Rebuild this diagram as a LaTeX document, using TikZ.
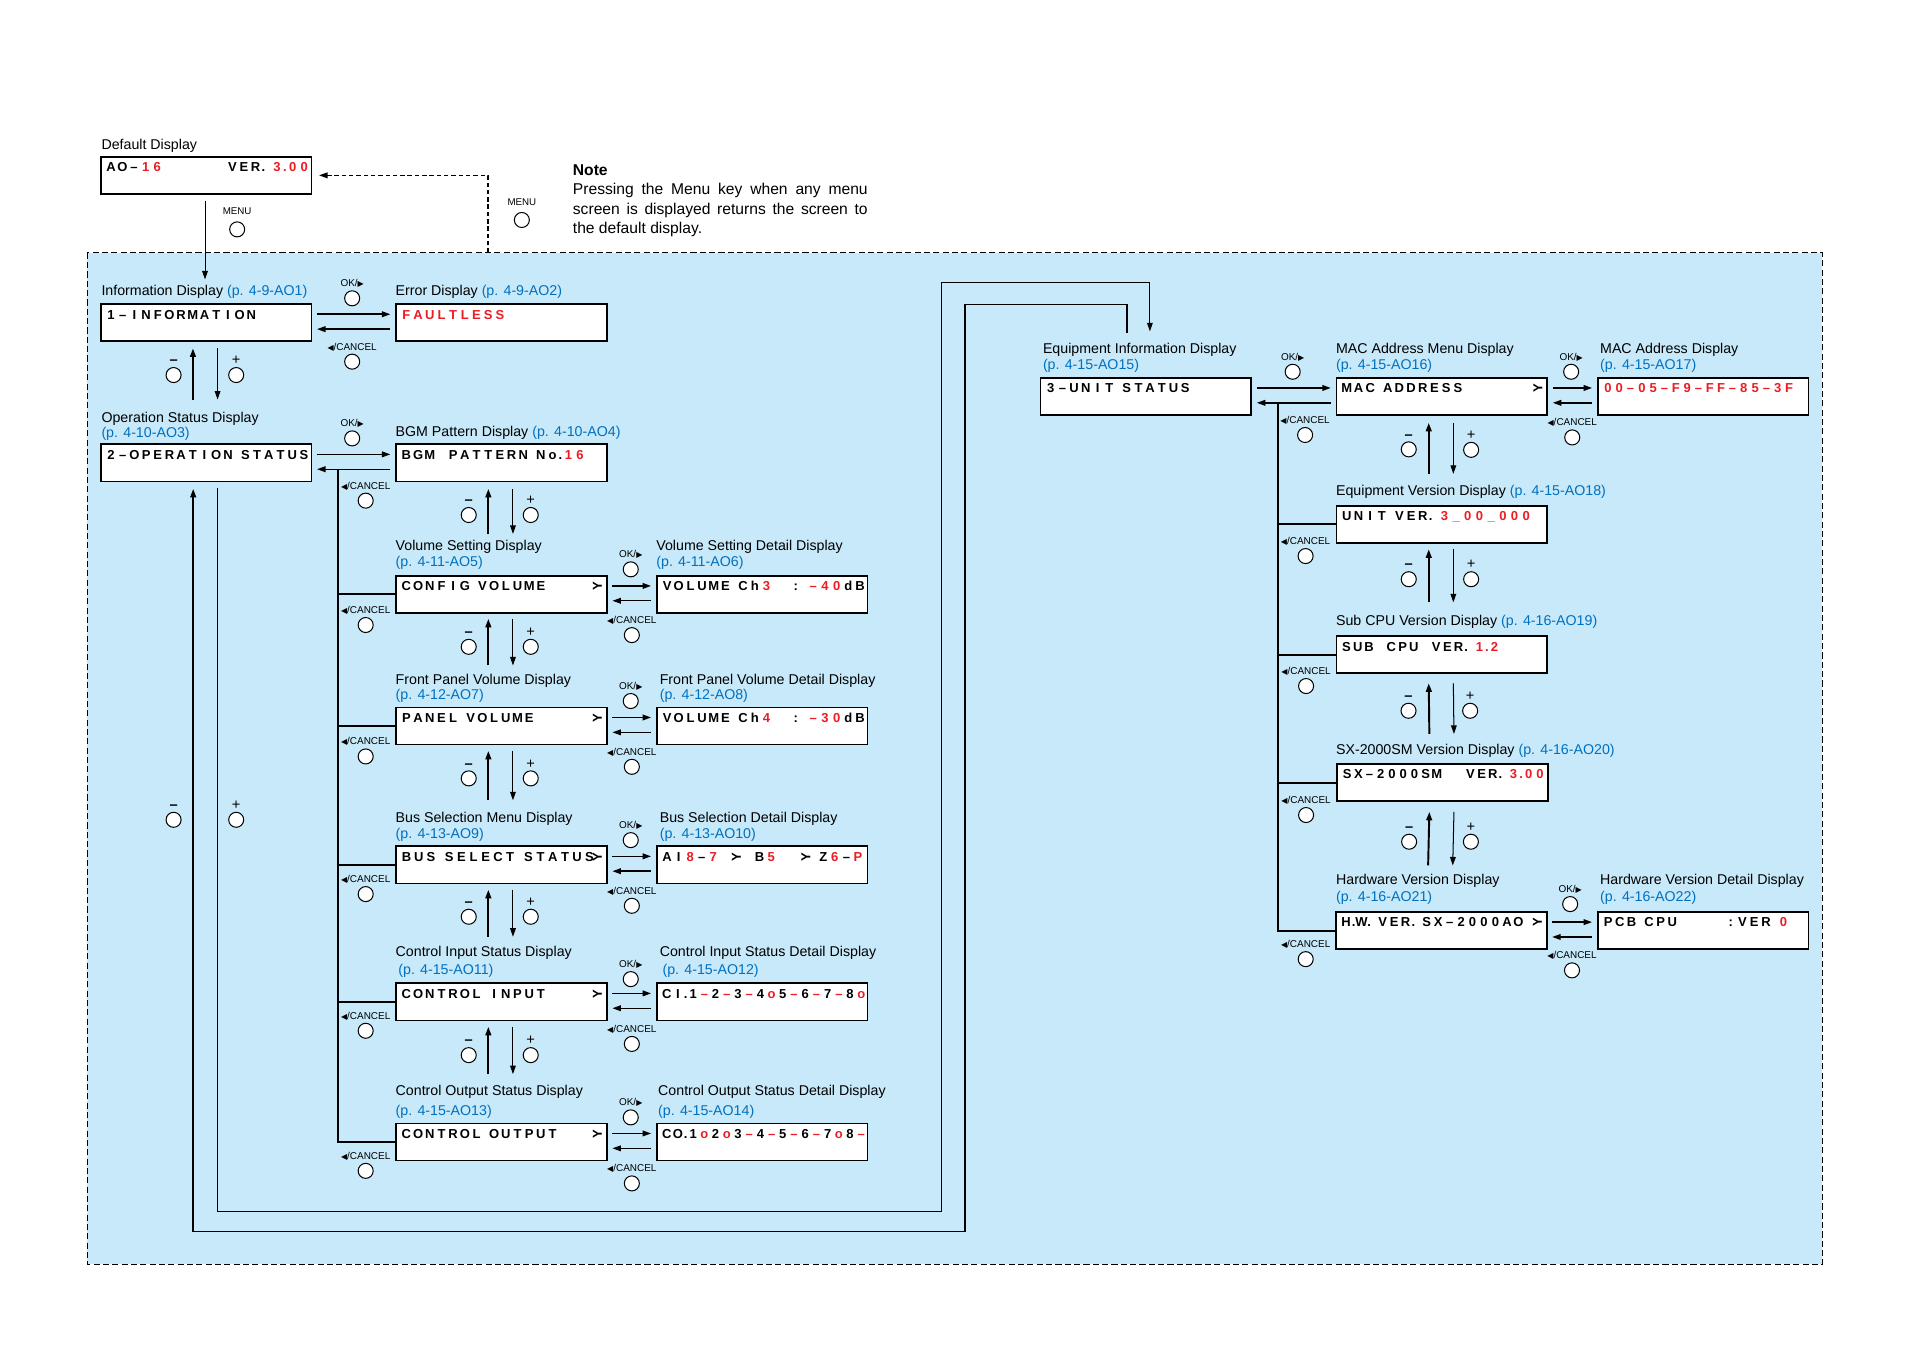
\documentclass[tikz,border=0pt]{standalone}
\usepackage{fontspec}
\setmainfont{Liberation Sans}
\newfontfamily\symfont{DejaVu Sans}
\usepackage{graphicx}
\usetikzlibrary{arrows.meta,calc}
\definecolor{bgblue}{RGB}{199,233,249}
\definecolor{refblue}{RGB}{0,112,192}
\definecolor{lcdred}{RGB}{235,28,36}
\newlength\myu \setlength\myu{0.6pt}
\newlength\lcdp \setlength\lcdp{5.76pt}
\newcommand\RR{RR}
\newcommand\KK{KK}
\newcommand\arrglyph{\rotatebox[origin=c]{90}{Y}}
\newcommand\bluetxt[1]{\textcolor{refblue}{#1}}
\def\lcdend{LCDEND}
\def\lcd#1{\lcdloop#1\lcdend}
\def\lcdloop#1{\ifx#1\lcdend\let\lcdnext\relax\else\lcdput#1\let\lcdnext\lcdloop\fi\lcdnext}
\def\lcdput#1{%
  \ifx#1|\kern.5\lcdp\else
  \ifx#1*\kern\lcdp\else
  \ifx#1.\makebox[.35\lcdp][c]{.}\else
  \ifx#1\RR\color{lcdred}\else
  \ifx#1\KK\color{black}\else
  \makebox[\lcdp][c]{#1}%
  \fi\fi\fi\fi\fi}
\newcommand\lcdbox[4][9.6]{\node[lcd] (#2) at (#3) {};
  \node[lcdtxt] (#2-t) at ($(#2.north west)+(4,13)$) {\setlength\lcdp{#1\myu}\lcd{#4}};}
\newcommand\arrnode[1]{\node[lcdtxt,anchor=base] (#1-a) at ($(#1.north west)+(166,13)$) {\arrglyph};}
\newcommand\okbtn[3]{\node[btn] (#1) at (#2,#3) {};
  \node[btnl] (#1-l) at ($(#1)+(0,-9.5)$) {OK/{\symfont\scalebox{0.8}{▶}}};}
\newcommand\cnbtn[3]{\node[btn] (#1) at (#2,#3) {};
  \node[btnl] (#1-l) at ($(#1)+(0,-9.5)$) {{\symfont\scalebox{0.8}{◀}}/CANCEL};}
\newcommand\mbtn[3]{\node[btn] (#1) at (#2,#3) {};
  \node[pml] (#1-l) at ($(#1)+(0,-8.5)$) {\bfseries –};}
\newcommand\pbtn[3]{\node[btn] (#1) at (#2,#3) {};
  \node[pml] (#1-l) at ($(#1)+(0,-8.5)$) {+};}
\newcommand\menubtn[3]{\node[btn] (#1) at (#2,#3) {};
  \node[menul] (#1-l) at ($(#1)+(0,-12.2)$) {MENU};}
\newcommand\hpair[2]{\draw[fwd] ($(#1.north east)+(3.8,9)$) -- ($(#2.north west)+(-4,9)$);
  \draw[bck] ($(#2.north west)+(-4,21.2)$) -- ($(#1.north east)+(3.8,21.2)$);}
\newcommand\vpair[4]{\draw[uparr] ($(#2.north west)+(76.4,-#4)$) -- ($(#1.south west)+(76.4,#3)$);
  \draw[dnarr] ($(#1.south west)+(96.6,#3)$) -- ($(#2.north west)+(96.6,-#4)$);}
\begin{document}
\begin{tikzpicture}[x=0.6pt,y=-0.6pt,
  atip/.tip={Triangle[length=4.2pt,width=2.8pt]},
  lcd/.style={draw,line width=0.85pt,fill=white,minimum width=103.8pt,minimum height=18.3pt,inner sep=0pt,anchor=north west},
  lcdtxt/.style={inner sep=0pt,anchor=base west,font=\fontsize{6.4}{7}\selectfont\bfseries},
  lbl/.style={inner sep=0pt,anchor=base west,font=\fontsize{7}{8}\selectfont},
  notef/.style={inner sep=0pt,anchor=base west,font=\fontsize{7.7}{9}\selectfont},
  btn/.style={circle,draw,line width=0.5pt,fill=white,minimum size=7.4pt,inner sep=0pt},
  btnl/.style={inner sep=0pt,anchor=base,font=\fontsize{4.9}{5.5}\selectfont},
  menul/.style={inner sep=0pt,anchor=base,font=\fontsize{4.8}{5.5}\selectfont},
  pml/.style={inner sep=0pt,anchor=base,font=\fontsize{7.2}{8}\selectfont},
  fwd/.style={line width=0.8pt,-atip},
  bck/.style={line width=0.7pt,-atip},
  uparr/.style={line width=0.95pt,-atip},
  dnarr/.style={line width=0.5pt,-atip},
  busln/.style={line width=0.95pt},
  dasharr/.style={line width=0.7pt,dash pattern=on 2.2pt off 1.4pt,-atip},
  region/.style={fill=bgblue,line width=0.45pt,dash pattern=on 3pt off 1.6pt}]
\useasboundingbox (0,0) rectangle (1568,1108);
\fill[white] (0,0) rectangle (1568,1108);
\draw[region] (71.6,207.5) rectangle (1496,1038);

% ---------- boxes ----------
\lcdbox[9.5]{def}{82,128}{AO–\RR16\KK*****|VER.|\RR3.00}
\lcdbox{info}{82,249}{1–INFORMATION}
\lcdbox{err}{324.5,249}{\RR FAULTLESS}
\lcdbox{op}{82,364}{2–OPERATION|STATUS}
\lcdbox{bgm}{324.5,364}{BGM*PATTERN|No.\RR16}
\lcdbox{cfg}{324.5,472}{CONFIG|VOLUME}
\lcdbox{cfgd}{538.5,472}{VOLUME|Ch\RR3\KK|||:|\RR–40\KK dB}
\lcdbox{pnl}{324.5,580}{PANEL|VOLUME}
\lcdbox{pnld}{538.5,580}{VOLUME|Ch\RR4\KK|||:|\RR–30\KK dB}
\lcdbox[10]{bus}{324.5,694}{BUS|SELECT|STATUS}
\lcdbox[9.5]{busd}{538.5,694}{AI\RR8\KK–\RR7\KK*\arrglyph*B\RR5\KK**\arrglyph|Z\RR6\KK–\RR P}
\lcdbox{ci}{324.5,806.5}{CONTROL|INPUT}
\lcdbox[9.2]{cid}{538.5,806.5}{CI.1\RR–\KK2\RR–\KK3\RR–\KK4\RR o\KK5\RR–\KK6\RR–\KK7\RR–\KK8\RR o}
\lcdbox{co}{324.5,921.5}{CONTROL|OUTPUT}
\lcdbox[9.2]{cod}{538.5,921.5}{CO.1\RR o\KK2\RR o\KK3\RR–\KK4\RR–\KK5\RR–\KK6\RR–\KK7\RR o\KK8\RR–}
\lcdbox{unit}{853.5,309.5}{3–UNIT|STATUS}
\lcdbox{mac}{1096.5,309.5}{MAC|ADDRESS}
\lcdbox[9.3]{macd}{1311,309.5}{\RR00–05–F9–FF–85–3F}
\lcdbox{uver}{1096.5,414.5}{UNIT|VER.|\RR3\_00\_000}
\lcdbox[9.2]{sub}{1096.5,521.5}{SUB*CPU*VER.|\RR1.2}
\lcdbox[9.2]{sx}{1097,626.5}{SX–2000SM**VER.|\RR3.00}
\lcdbox[9.4]{hw}{1096,748}{H.W.|VER.|SX–2000AO}
\lcdbox{hwd}{1311,748}{PCB|CPU****:VER|\RR0}
\arrnode{cfg}\arrnode{pnl}\arrnode{bus}\arrnode{ci}\arrnode{co}\arrnode{mac}\arrnode{hw}

% ---------- labels ----------
\node[lbl] (l-def) at (83,122.6) {Default Display};
\node[lbl] (l-info) at (83,242.7) {Information Display \bluetxt{(p. 4-9-AO1)}};
\node[lbl] (l-err) at (324.5,242.7) {Error Display \bluetxt{(p. 4-9-AO2)}};
\node[lbl] (l-op1) at (83,347) {Operation Status Display};
\node[lbl] (l-op2) at (83,359.3) {\bluetxt{(p. 4-10-AO3)}};
\node[lbl] (l-bgm) at (324.5,358.5) {BGM Pattern Display \bluetxt{(p. 4-10-AO4)}};
\node[lbl] (l-cfg1) at (324.5,452.2) {Volume Setting Display};
\node[lbl] (l-cfg2) at (324.5,465.2) {\bluetxt{(p. 4-11-AO5)}};
\node[lbl] (l-cfgd1) at (538.5,452.2) {Volume Setting Detail Display};
\node[lbl] (l-cfgd2) at (538.5,465.2) {\bluetxt{(p. 4-11-AO6)}};
\node[lbl] (l-pnl1) at (324.5,561.6) {Front Panel Volume Display};
\node[lbl] (l-pnl2) at (324.5,574) {\bluetxt{(p. 4-12-AO7)}};
\node[lbl] (l-pnld1) at (541.3,561.6) {Front Panel Volume Detail Display};
\node[lbl] (l-pnld2) at (541.3,574) {\bluetxt{(p. 4-12-AO8)}};
\node[lbl] (l-bus1) at (324.5,675.4) {Bus Selection Menu Display};
\node[lbl] (l-bus2) at (324.5,688.3) {\bluetxt{(p. 4-13-AO9)}};
\node[lbl] (l-busd1) at (541.3,675.4) {Bus Selection Detail Display};
\node[lbl] (l-busd2) at (541.3,688.3) {\bluetxt{(p. 4-13-AO10)}};
\node[lbl] (l-ci1) at (324.5,784.9) {Control Input Status Display};
\node[lbl] (l-ci2) at (326.7,799.7) {\bluetxt{(p. 4-15-AO11)}};
\node[lbl] (l-cid1) at (541.3,784.9) {Control Input Status Detail Display};
\node[lbl] (l-cid2) at (543.6,799.7) {\bluetxt{(p. 4-15-AO12)}};
\node[lbl] (l-co1) at (324.5,899.6) {Control Output Status Display};
\node[lbl] (l-co2) at (324.5,915.4) {\bluetxt{(p. 4-15-AO13)}};
\node[lbl] (l-cod1) at (540,899.6) {Control Output Status Detail Display};
\node[lbl] (l-cod2) at (540,915.4) {\bluetxt{(p. 4-15-AO14)}};
\node[lbl] (l-unit1) at (855.9,290) {Equipment Information Display};
\node[lbl] (l-unit2) at (855.9,303.2) {\bluetxt{(p. 4-15-AO15)}};
\node[lbl] (l-mac1) at (1096.5,290) {MAC Address Menu Display};
\node[lbl] (l-mac2) at (1096.5,303.2) {\bluetxt{(p. 4-15-AO16)}};
\node[lbl] (l-macd1) at (1313.3,290) {MAC Address Display};
\node[lbl] (l-macd2) at (1313.3,303.2) {\bluetxt{(p. 4-15-AO17)}};
\node[lbl] (l-uver) at (1096.5,406.4) {Equipment Version Display \bluetxt{(p. 4-15-AO18)}};
\node[lbl] (l-sub) at (1096.5,513.7) {Sub CPU Version Display \bluetxt{(p. 4-16-AO19)}};
\node[lbl] (l-sx) at (1096.5,619) {SX-2000SM Version Display \bluetxt{(p. 4-16-AO20)}};
\node[lbl] (l-hw1) at (1096.5,726) {Hardware Version Display};
\node[lbl] (l-hw2) at (1096.5,739.8) {\bluetxt{(p. 4-16-AO21)}};
\node[lbl] (l-hwd1) at (1313.3,726) {Hardware Version Detail Display};
\node[lbl] (l-hwd2) at (1313.3,739.8) {\bluetxt{(p. 4-16-AO22)}};

% ---------- note ----------
\node[notef] (note0) at (470,144) {\bfseries Note};
\node[notef] (note1) at (470,160) {\makebox[145.2pt][s]{Pressing the Menu key when any menu}};
\node[notef] (note2) at (470,175.7) {\makebox[145.2pt][s]{screen is displayed returns the screen to}};
\node[notef] (note3) at (470,191.4) {the default display.};

% ---------- connectors ----------
\draw[dnarr] ($(def.south west)+(86.3,4.7)$) -- ($(info.north west)+(86.3,-19.6)$);
\coordinate (dashA) at (400.6,207.5);
\draw[dasharr] (dashA) |- ($(def.east)+(5.5,0)$);

\hpair{info}{err}\hpair{op}{bgm}\hpair{cfg}{cfgd}\hpair{pnl}{pnld}\hpair{bus}{busd}
\hpair{ci}{cid}\hpair{co}{cod}\hpair{unit}{mac}\hpair{mac}{macd}\hpair{hw}{hwd}

\vpair{info}{op}{5.1}{36}
\vpair{bgm}{cfg}{5.4}{33.7}
\vpair{cfg}{pnl}{4.1}{33.7}
\vpair{pnl}{bus}{4.5}{37}
\vpair{bus}{ci}{4.5}{37.5}
\vpair{ci}{co}{4.5}{39.7}
\vpair{mac}{uver}{5.7}{25.5}
\vpair{uver}{sub}{4.5}{27}
\vpair{sub}{sx}{7.5}{24}
\vpair{sx}{hw}{8}{37.5}

\coordinate (busL) at ($(op.north east)+(20.7,21.2)$);
\draw[busln] (busL) |- (co.west);
\foreach \b in {cfg,pnl,bus,ci} \draw[busln] (busL |- \b.west) -- (\b.west);
\coordinate (busR) at ($(unit.north east)+(21.4,21.2)$);
\draw[busln] (busR) |- (hw.west);
\foreach \b in {uver,sub,sx} \draw[busln] (busR |- \b.west) -- (\b.west);

\coordinate (loopA) at (925,273);
\coordinate (loopB) at (944,272);
\draw[uparr] (loopA) |- (792,250) |- (158.6,1011) -- ($(op.south west)+(76.6,5.4)$);
\draw[dnarr] ($(op.south west)+(96.6,4.4)$) |- (773,994.8) -- (773,231.8) -| (loopB);

% ---------- buttons ----------
\menubtn{b-menu1}{194.7}{188.3}
\menubtn{b-menu2}{428.4}{180.6}
\okbtn{b-info-ok}{289.1}{244.9}\cnbtn{b-info-cn}{289.1}{296.9}
\mbtn{b-info-m}{142.5}{307.9}\pbtn{b-info-p}{193.9}{307.9}
\okbtn{b-op-ok}{289.1}{359.9}\cnbtn{b-op-cn}{300.2}{411}
\mbtn{b-bgm-m}{384.8}{422.8}\pbtn{b-bgm-p}{435.7}{422.8}
\cnbtn{b-cfg-cl}{300.2}{513.1}\okbtn{b-cfg-ok}{517.8}{467.4}\cnbtn{b-cfg-cr}{518.7}{521.4}
\mbtn{b-cfg-m}{384.8}{531}\pbtn{b-cfg-p}{435.7}{531}
\cnbtn{b-pnl-cl}{300.2}{621}\okbtn{b-pnl-ok}{517.8}{575.5}\cnbtn{b-pnl-cr}{518.7}{629.5}
\mbtn{b-pnl-m}{384.8}{639}\pbtn{b-pnl-p}{435.7}{639}
\cnbtn{b-bus-cl}{300.2}{734}\okbtn{b-bus-ok}{517.8}{689.7}\cnbtn{b-bus-cr}{518.7}{743.6}
\mbtn{b-bus-m}{384.8}{752.6}\pbtn{b-bus-p}{435.7}{752.6}
\cnbtn{b-ci-cl}{300.2}{846.2}\okbtn{b-ci-ok}{517.8}{803.8}\cnbtn{b-ci-cr}{518.7}{857}
\mbtn{b-ci-m}{384.8}{866.2}\pbtn{b-ci-p}{435.7}{866.2}
\cnbtn{b-co-cl}{300.2}{961.2}\okbtn{b-co-ok}{517.8}{917.3}\cnbtn{b-co-cr}{518.7}{971.5}
\mbtn{b-loop-m}{142.5}{673}\pbtn{b-loop-p}{193.9}{673}
\okbtn{b-unit-ok}{1061.2}{305.2}\cnbtn{b-unit-cn}{1071.4}{357.1}
\okbtn{b-mac-ok}{1289.8}{305.2}\cnbtn{b-mac-cn}{1290.7}{359.1}
\mbtn{b-mac-m}{1156.5}{368.9}\pbtn{b-mac-p}{1207.7}{369.3}
\cnbtn{b-uver-cn}{1071.8}{456.5}\mbtn{b-uver-m}{1156.5}{475.5}\pbtn{b-uver-p}{1207.7}{475.5}
\cnbtn{b-sub-cn}{1072.2}{563.2}\mbtn{b-sub-m}{1156.3}{583.5}\pbtn{b-sub-p}{1206.9}{583.5}
\cnbtn{b-sx-cn}{1072.2}{669.1}\mbtn{b-sx-m}{1156.8}{691}\pbtn{b-sx-p}{1207.5}{691}
\cnbtn{b-hw-cn}{1071.9}{787.4}\okbtn{b-hw-ok}{1289}{742.2}\cnbtn{b-hwd-cn}{1290.5}{796.6}
\end{tikzpicture}
\end{document}
